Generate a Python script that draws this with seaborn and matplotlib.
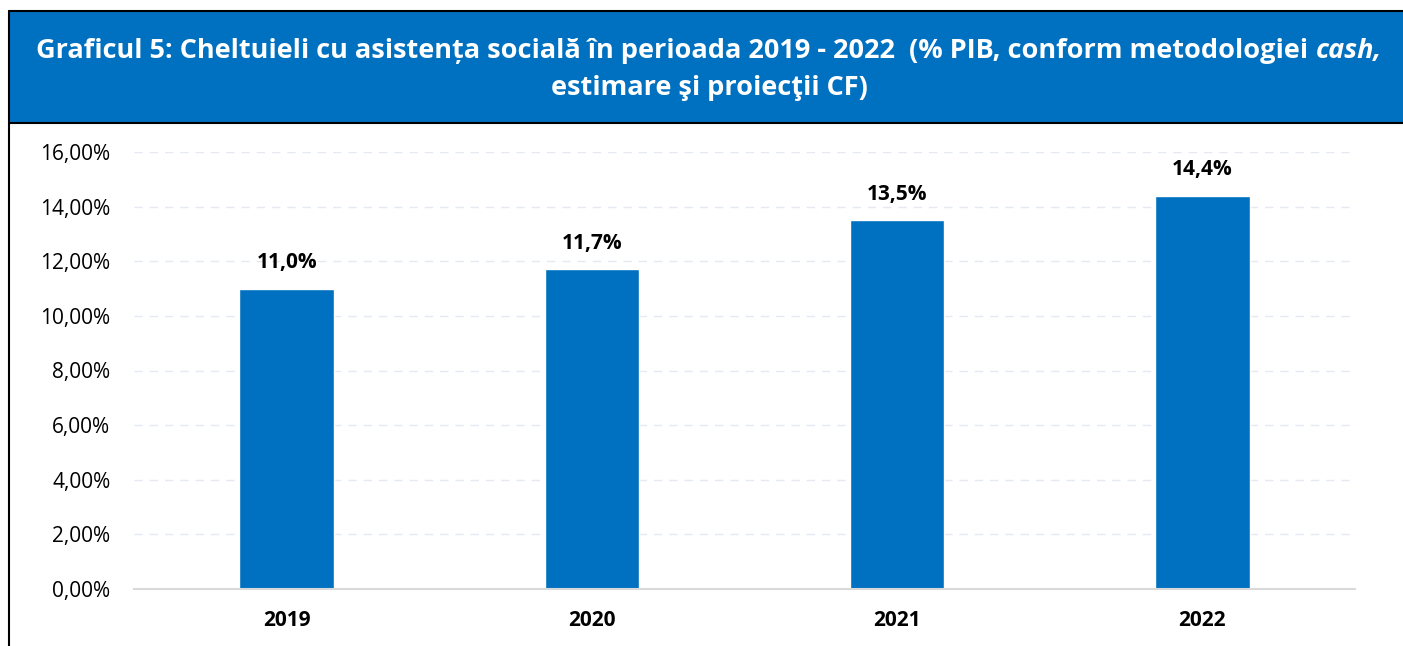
import matplotlib
matplotlib.use('Agg')
import matplotlib.pyplot as plt
import seaborn as sns
import pandas as pd
from matplotlib.patches import Rectangle
from matplotlib.lines import Line2D

# date
ani = ['2019', '2020', '2021', '2022']
valori = [11.0, 11.7, 13.5, 14.4]
etichete = ['11,0%', '11,7%', '13,5%', '14,4%']
yticks = [0, 2, 4, 6, 8, 10, 12, 14, 16]
ytick_labels = ['0,00%', '2,00%', '4,00%', '6,00%', '8,00%', '10,00%', '12,00%', '14,00%', '16,00%']

titlu_1 = 'Graficul 5: Cheltuieli cu asistența socială în perioada 2019 - 2022  (% PIB, conform metodologiei '
titlu_italic = 'cash,'
titlu_2 = 'estimare şi proiecţii CF)'

albastru = '#0070C0'

sns.set_theme(style='white')
plt.rcParams['font.family'] = ['Open Sans', 'DejaVu Sans']

df = pd.DataFrame({'an': ani, 'valoare': valori})

W, H = 1403, 646
fig = plt.figure(figsize=(W / 100, H / 100), dpi=100)
ax = fig.add_axes([134 / W, 1 - 589 / H, (1355 - 134) / W, (589 - 152) / H])

sns.barplot(data=df, x='an', y='valoare', color=albastru, saturation=1, width=0.31, ax=ax)

ax.set_ylim(0, 16)
ax.set_xlim(-0.5, 3.5)
ax.set_yticks(yticks)
ax.set_yticklabels(ytick_labels, fontsize=15, color='black')
ax.tick_params(axis='y', length=0, pad=17)
ax.tick_params(axis='x', length=0, pad=15)
for lbl in ax.get_xticklabels():
    lbl.set_fontweight('bold')
    lbl.set_fontsize(15)
    lbl.set_color('black')
ax.set_xlabel('')
ax.set_ylabel('')
for s in ['top', 'right', 'left']:
    ax.spines[s].set_visible(False)
ax.spines['bottom'].set_color('#D9D9D9')
ax.spines['bottom'].set_linewidth(1.5)
ax.yaxis.grid(True, linestyle=(0, (6, 5)), color='#E4E9F2', linewidth=1)
ax.set_axisbelow(True)

for i, v in enumerate(valori):
    ax.annotate(etichete[i], (i, v), xytext=(0, 11), textcoords='offset points',
                ha='center', va='bottom', fontsize=15, fontweight='bold', color='black')

# antet albastru
fig.patches.append(Rectangle((9 / W, 1 - 123 / H), (W - 9) / W, 112 / H, transform=fig.transFigure,
                             facecolor=albastru, edgecolor='none', zorder=0))
fig.lines.append(Line2D([9 / W, 1], [1 - 11 / H, 1 - 11 / H], transform=fig.transFigure, color='black', lw=1.5))
fig.lines.append(Line2D([9 / W, 1], [1 - 123 / H, 1 - 123 / H], transform=fig.transFigure, color='black', lw=1.5))
fig.lines.append(Line2D([9 / W, 9 / W], [1 - 11 / H, 0], transform=fig.transFigure, color='black', lw=1.5))

# titlu, cu "cash," in italic
fs = 19.5
t1 = fig.text(0, 1 - 51 / H, titlu_1, color='white', fontweight='bold', fontsize=fs, va='center', ha='left')
t2 = fig.text(0, 1 - 51 / H, titlu_italic, color='white', fontweight='bold', fontstyle='italic',
              fontsize=fs, va='center', ha='left')
fig.canvas.draw()
r = fig.canvas.get_renderer()
w1 = t1.get_window_extent(r).width
w2 = t2.get_window_extent(r).width
x0 = (709 - (w1 + w2) / 2)
t1.set_x(x0 / W)
t2.set_x((x0 + w1) / W)
fig.text(709 / W, 1 - 88 / H, titlu_2, color='white', fontweight='bold', fontsize=fs, va='center', ha='center')

fig.savefig('out.png', dpi=100)
